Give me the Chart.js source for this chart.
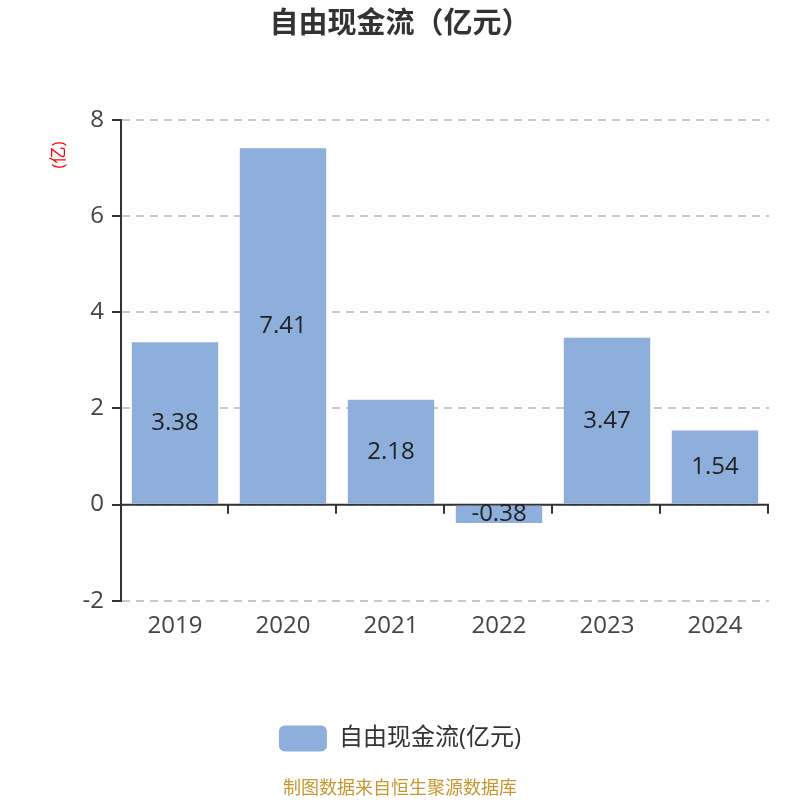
<!DOCTYPE html>
<html>
<head>
<meta charset="utf-8">
<script src="https://cdn.jsdelivr.net/npm/chart.js@4/dist/chart.umd.min.js"></script>
<style>
    html, body { margin: 0; padding: 0; background: #fff; }
    #wrap { width: 800px; height: 800px; }
</style>
</head>
<body>
<div id="wrap"><canvas id="canvas" width="800" height="800"></canvas></div>
<script>
const years = ['2019', '2020', '2021', '2022', '2023', '2024'];
const cashFlow = [3.38, 7.41, 2.18, -0.38, 3.47, 1.54];
const yTicks = [-2, 0, 2, 4, 6, 8];
const seriesName = '自由现金流(亿元)';
const chartTitle = '自由现金流（亿元）';
const unitLabel = '(亿)';
const sourceNote = '制图数据来自恒生聚源数据库';

const fontFamily = '"Open Sans", "Noto Sans CJK SC", sans-serif';

// zero line + category tick marks under the bars
const zeroAxis = {
    id: 'zeroAxis',
    beforeDatasetsDraw(chart) {
        const ctx = chart.ctx;
        const area = chart.chartArea;
        const y0 = chart.scales.y.getPixelForValue(0);
        ctx.save();
        ctx.strokeStyle = '#333';
        ctx.lineWidth = 2;
        ctx.beginPath();
        ctx.moveTo(area.left, y0);
        ctx.lineTo(area.right, y0);
        const step = (area.right - area.left) / years.length;
        for (let i = 1; i <= years.length; i++) {
            const px = Math.round(area.left + i * step) - 1;
            ctx.moveTo(px, y0);
            ctx.lineTo(px, y0 + 9);
        }
        ctx.stroke();
        ctx.restore();
    },
};

// values in the middle of each bar, plus the red unit label
const barLabels = {
    id: 'barLabels',
    afterDatasetsDraw(chart) {
        const ctx = chart.ctx;
        const meta = chart.getDatasetMeta(0);
        ctx.save();
        ctx.font = '24px ' + fontFamily;
        ctx.fillStyle = '#222';
        ctx.textAlign = 'center';
        ctx.textBaseline = 'middle';
        meta.data.forEach((bar, i) => {
            const cy = (bar.y + bar.base) / 2;
            ctx.fillText(cashFlow[i].toFixed(2), bar.x, cy);
        });
        ctx.translate(59, 155);
        ctx.rotate(-Math.PI / 2);
        ctx.font = '17px ' + fontFamily;
        ctx.fillStyle = '#ff0000';
        ctx.fillText(unitLabel, 0, 0);
        ctx.restore();
    },
};

new Chart('canvas', {
    type: 'bar',
    data: {
        labels: years,
        datasets: [
            {
                label: seriesName,
                data: cashFlow,
                backgroundColor: '#8eaedb',
                borderWidth: 0,
                barPercentage: 1,
                categoryPercentage: 0.8,
            },
        ],
    },
    options: {
        responsive: false,
        animation: false,
        devicePixelRatio: 1,
        layout: { padding: 0 },
        plugins: {
            title: {
                display: true,
                text: chartTitle,
                color: '#333',
                font: { family: fontFamily, size: 29, weight: 'bold' },
                padding: { top: 7, bottom: 78.2 },
            },
            subtitle: {
                display: true,
                position: 'bottom',
                text: sourceNote,
                color: '#c8962e',
                font: { family: fontFamily, size: 18 },
                padding: { top: 17, bottom: 0 },
            },
            legend: {
                position: 'bottom',
                labels: {
                    boxWidth: 48,
                    boxHeight: 26,
                    useBorderRadius: true,
                    borderRadius: 6,
                    color: '#333',
                    padding: 12,
                    font: { family: fontFamily, size: 24 },
                },
            },
            tooltip: { enabled: false },
        },
        scales: {
            x: {
                grid: { display: false },
                border: { display: false },
                ticks: {
                    color: '#444',
                    padding: 3,
                    font: { family: fontFamily, size: 24 },
                },
                afterFit(scale) {
                    scale.height = 112.6;
                },
            },
            y: {
                min: -2,
                max: 8,
                afterBuildTicks(scale) {
                    scale.ticks = yTicks.map((v) => ({ value: v }));
                },
                grid: {
                    color: '#c8c8c8',
                    lineWidth: 2,
                    tickColor: '#333',
                    tickLength: 9,
                    tickWidth: 2,
                    tickBorderDash: [],
                },
                border: { display: true, color: '#333', width: 2, dash: [8, 6] },
                ticks: {
                    color: '#444',
                    padding: 8,
                    font: { family: fontFamily, size: 24 },
                },
                afterFit(scale) {
                    scale.width = 121;
                },
            },
            // empty right gutter so title and legend stay centred on the page
            gutter: {
                position: 'right',
                grid: { display: false },
                border: { display: false },
                ticks: { display: false },
                afterFit(scale) {
                    scale.width = 31;
                },
            },
        },
    },
    plugins: [zeroAxis, barLabels],
});
</script>
</body>
</html>
